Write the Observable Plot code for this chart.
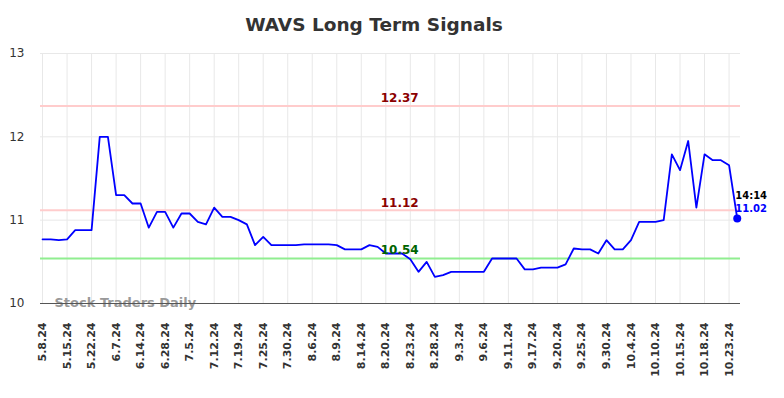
<!DOCTYPE html>
<html>
<head>
<meta charset="utf-8">
<script src="https://cdn.jsdelivr.net/npm/d3@7"></script>
<script src="https://cdn.jsdelivr.net/npm/@observablehq/plot@0.6"></script>
<style>
  html, body { margin: 0; padding: 0; background: #fff; }
  #title { width: 784px; height: 40px; box-sizing: border-box; padding-right: 36px; padding-top: 13px;
    text-align: center; font-family: "DejaVu Sans", sans-serif; font-weight: bold; font-size: 18.5px; color: #333; line-height: 24px; }
</style>
</head>
<body>
<div id="title">WAVS Long Term Signals</div>
<div id="chart"></div>
<script>
const tickLabels = ["5.8.24","5.15.24","5.22.24","6.7.24","6.14.24","6.28.24","7.5.24","7.12.24","7.19.24","7.25.24","7.30.24","8.6.24","8.9.24","8.14.24","8.20.24","8.23.24","8.28.24","9.3.24","9.6.24","9.11.24","9.17.24","9.20.24","9.25.24","9.30.24","10.4.24","10.10.24","10.15.24","10.18.24","10.23.24"];
const prices = [10.77,10.77,10.76,10.77,10.88,10.88,10.88,12.00,12.00,11.30,
  11.30,11.20,11.20,10.91,11.10,11.10,10.91,11.08,11.08,10.98,
  10.95,11.15,11.04,11.04,11.00,10.95,10.70,10.80,10.70,10.70,
  10.70,10.70,10.71,10.71,10.71,10.71,10.70,10.65,10.65,10.65,
  10.70,10.68,10.60,10.60,10.60,10.53,10.38,10.50,10.32,10.34,
  10.38,10.38,10.38,10.38,10.38,10.54,10.54,10.54,10.54,10.41,
  10.41,10.43,10.43,10.43,10.47,10.66,10.65,10.65,10.60,10.76,
  10.65,10.65,10.76,10.98,10.98,10.98,11.00,11.79,11.60,11.95,
  11.15,11.79,11.72,11.72,11.66,11.02];
const resistanceLevels = [12.37, 11.12];
const supportLevels = [10.54];
const lastTime = "14:14";
const yTicks = [10, 11, 12, 13];

const data = prices.map((v, i) => ({i, v}));
const tickIdx = tickLabels.map((_, k) => k * 3);
const last = data[data.length - 1];
const font = "DejaVu Sans, sans-serif";

const chart = Plot.plot({
  width: 784,
  height: 358,
  marginTop: 13,
  marginBottom: 95,
  marginLeft: 40,
  marginRight: 44,
  style: {fontFamily: font, background: "#fff"},
  x: {type: "linear", domain: [-0.25, 85.4]},
  y: {domain: [10, 13]},
  marks: [
    Plot.ruleX(tickIdx, {stroke: "#e8e8e8", strokeWidth: 1}),
    Plot.ruleY(yTicks.slice(1), {stroke: "#e8e8e8", strokeWidth: 1}),
    Plot.ruleY(resistanceLevels, {stroke: "#ffcccc", strokeWidth: 2}),
    Plot.ruleY(supportLevels, {stroke: "#90ee90", strokeWidth: 2}),
    Plot.axisY({ticks: yTicks, tickFormat: d => String(d), tickSize: 0, tickPadding: 16, fontSize: 12, fill: "#333", label: null}),
    Plot.axisX({ticks: tickIdx, tickFormat: d => tickLabels[d / 3], tickRotate: -90, tickSize: 0, tickPadding: 19,
      fontSize: 11, fontWeight: "bold", fill: "#333", label: null}),
    Plot.text(["Stock Traders Daily"], {frameAnchor: "bottom-left", textAnchor: "start", dx: 14, dy: 3,
      fill: "#999", fontWeight: "bold", fontSize: 13}),
    Plot.ruleY([10], {stroke: "#555", strokeWidth: 1}),
    Plot.line(data, {x: "i", y: "v", stroke: "#0000ff", strokeWidth: 1.8}),
    Plot.text(resistanceLevels, {x: 43.7, y: d => d, text: d => d.toFixed(2), dy: -7.5, fill: "#8b0000", fontWeight: "bold", fontSize: 12}),
    Plot.text(supportLevels, {x: 43.7, y: d => d, text: d => d.toFixed(2), dy: -8, fill: "#006400", fontWeight: "bold", fontSize: 12}),
    Plot.dot([last], {x: "i", y: "v", r: 4, fill: "#0000ff"}),
    Plot.text([last], {x: "i", y: "v", text: () => lastTime, textAnchor: "start", dx: -2, dy: -23, fill: "#000", fontWeight: "bold", fontSize: 10}),
    Plot.text([last], {x: "i", y: "v", text: d => d.v.toFixed(2), textAnchor: "start", dx: -2, dy: -10, fill: "#0000ff", fontWeight: "bold", fontSize: 10})
  ]
});
document.getElementById("chart").appendChild(chart);
</script>
</body>
</html>
